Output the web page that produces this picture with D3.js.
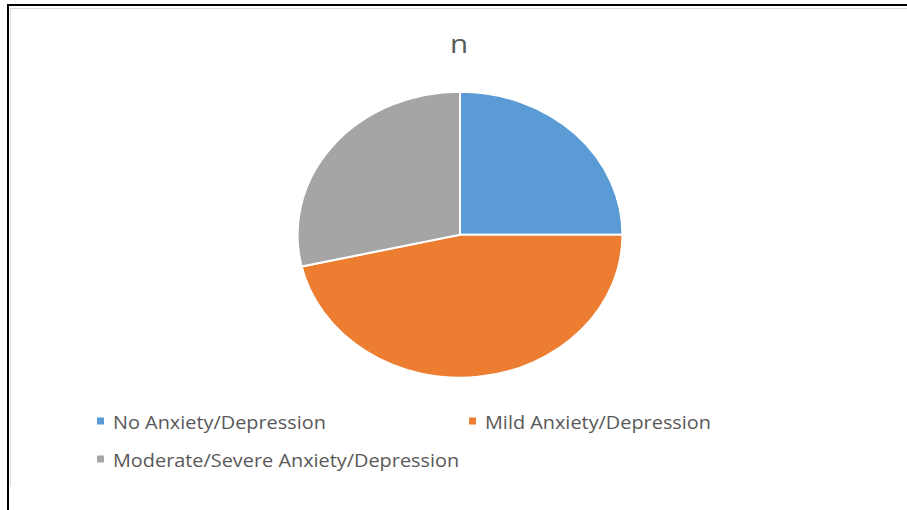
<!DOCTYPE html>
<html><head><meta charset="utf-8">
<script src="https://cdn.jsdelivr.net/npm/d3@7"></script>
<style>body{margin:0;background:#fff}svg{display:block}</style>
</head><body>
<script>
const categories = ["No Anxiety/Depression", "Mild Anxiety/Depression", "Moderate/Severe Anxiety/Depression"];
const values = [35, 65, 40];
const colors = ["#5B9BD5", "#ED7D31", "#A5A5A5"];
const title = "n";

const W = 907, H = 510;
const sx = 1.136; // horizontal stretch of the picture
const svg = d3.select("body").append("svg").attr("width", W).attr("height", H);

// frame
svg.append("rect").attr("x", 8).attr("y", 5).attr("width", 1000).attr("height", 600)
  .attr("fill", "none").attr("stroke", "#000").attr("stroke-width", 2);
svg.append("line").attr("x1", 10.5).attr("x2", 10.5).attr("y1", 8).attr("y2", 486).attr("stroke", "#d9d9d9");
svg.append("line").attr("x1", 10).attr("x2", 907).attr("y1", 8.5).attr("y2", 8.5).attr("stroke", "#d9d9d9");

const g = svg.append("g").attr("transform", `scale(${sx},1)`);
const font = "'Open Sans', sans-serif";

g.append("text").attr("x", 459 / sx).attr("y", 53).attr("text-anchor", "middle")
  .attr("font-family", font).attr("font-size", 26).attr("fill", "#595959").text(title);

const cx = 460 / sx, cy = 234.7, r = 143;
const pie = d3.pie().sort(null).value(d => d)(values);
const arc = d3.arc().innerRadius(0).outerRadius(r);
g.append("g").attr("transform", `translate(${cx},${cy})`)
  .selectAll("path").data(pie).join("path")
  .attr("d", arc).attr("fill", (d, i) => colors[i])
  .attr("stroke", "#fff").attr("stroke-width", 2).attr("vector-effect", "non-scaling-stroke");

// legend
const legPos = [[97, 425], [469, 425], [97, 463]];
const lg = g.append("g");
categories.forEach((c, i) => {
  const [x, y] = legPos[i];
  lg.append("rect").attr("x", x / sx).attr("y", y - 7.5).attr("width", 7 / sx).attr("height", 7).attr("fill", colors[i]);
  lg.append("text").attr("x", (x + 16) / sx).attr("y", y + 4).attr("font-family", font).attr("font-size", 17.5)
    .attr("fill", "#595959").text(c);
});
</script>
</body></html>
